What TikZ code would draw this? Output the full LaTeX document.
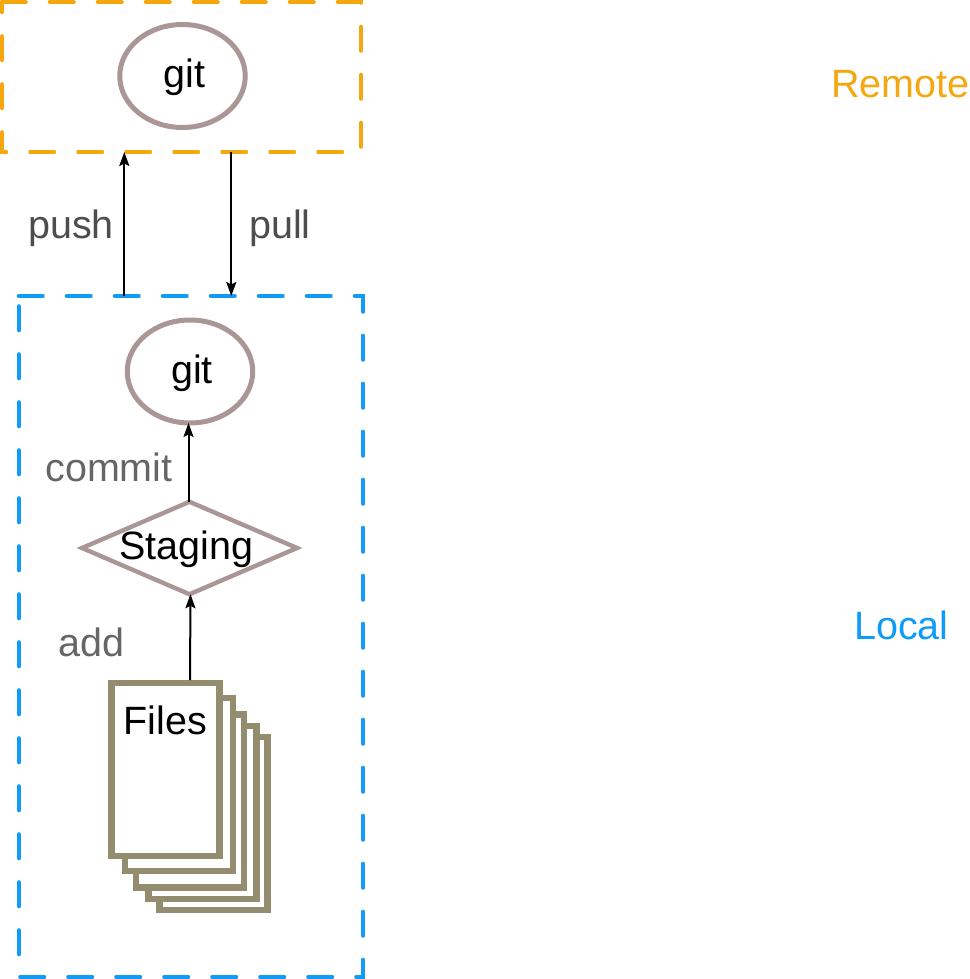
\documentclass[tikz,border=0pt]{standalone}
\usepackage{fontspec}
\setmainfont{Liberation Sans}
\usetikzlibrary{positioning,arrows.meta,shapes.geometric}
\definecolor{remotecol}{HTML}{F5A70F}
\definecolor{localcol}{HTML}{0F9BF7}
\definecolor{nodecol}{HTML}{AB9696}
\definecolor{filecol}{HTML}{938C6E}
\definecolor{pushcol}{HTML}{4D4D4D}
\definecolor{addcol}{HTML}{666666}
\tikzset{
  txt/.style={font=\fontsize{39.5}{39.5}\selectfont,inner sep=0pt,outer sep=0pt},
  gitnode/.style={draw=nodecol,line width=5pt,ellipse,minimum width=125.5pt,minimum height=103pt,inner sep=0pt,outer sep=0pt},
  stagenode/.style={draw=nodecol,line width=4.4pt,diamond,minimum width=215pt,minimum height=92.5pt,inner sep=0pt,outer sep=0pt},
  page/.style={draw=filecol,fill=white,line width=6.5pt,minimum width=108pt,minimum height=173pt,inner sep=0pt,outer sep=0pt},
  zone/.style={line width=4.6pt,line cap=round,dash pattern=on 23.5pt off 24.5pt},
  conn/.style={line width=2pt,-{Stealth[length=14pt,width=10pt,inset=2.5pt]}},
  tag/.style={txt,anchor=base}
}
\begin{document}
\begin{tikzpicture}[x=1pt,y=-1pt]
  \useasboundingbox (0,0) rectangle (969,979);
  % boxes
  \coordinate (r1) at (2,2);
  \coordinate[right=359pt of r1] (r2);
  \coordinate[below=150pt of r2] (r3);
  \coordinate[left=359pt of r3] (r4);
  \coordinate (l1) at (19,296);
  \coordinate[right=344pt of l1] (l2);
  \coordinate[below=681pt of l2] (l3);
  \coordinate[left=344pt of l3] (l4);
  \draw[zone,remotecol] (r1) -- (r2) -- (r3) -- (r4) -- cycle;
  \draw[zone,localcol] (l1) -- (l2) -- (l3) -- (l4) -- cycle;
  % nodes
  \node[gitnode] (gitremote) at (182.5,76) {};
  \node[gitnode] (gitlocal) at (190,371.5) {};
  \node[stagenode] (staging) at (189.5,548) {};
  \foreach \i/\x/\y in {5/213.5/823.5,4/202.5/812.5,3/190/801,2/179/784.5,1/165.5/769.5}{
    \node[page] (files\i) at (\x,\y) {};
  }
  \node[tag] (gitremotelabel) at (184.5,87.5) {git};
  \node[tag] (gitlocallabel) at (192,383) {git};
  \node[tag] (staginglabel) at (186,559) {Staging};
  \node[tag] (fileslabel) at (165.5,734) {Files};
  % connectors
  \coordinate (pushs) at (124.3,296);
  \coordinate (pushe) at (124.3,152);
  \coordinate (pulls) at (231.3,152);
  \coordinate (pulle) at (231.3,296);
  \coordinate (adds) at (190,680);
  \draw[conn] (pushs) -- (pushe);
  \draw[conn] (pulls) -- (pulle);
  \draw[conn] ([xshift=-1pt]staging.north) -- ([xshift=-1.5pt]gitlocal.south);
  \draw[conn] (adds) -- ([xshift=1pt]staging.south);
  % labels
  \node[tag,pushcol] (pushlabel) at (71,238) {push};
  \node[tag,pushcol] (pulllabel) at (280,238) {pull};
  \node[tag,addcol] (commitlabel) at (109,481) {commit};
  \node[tag,addcol] (addlabel) at (91.5,656) {add};
  \node[tag,remotecol] (remotelabel) at (900.5,98) {Remote};
  \node[tag,localcol] (locallabel) at (901.5,639.5) {Local};
\end{tikzpicture}
\end{document}
